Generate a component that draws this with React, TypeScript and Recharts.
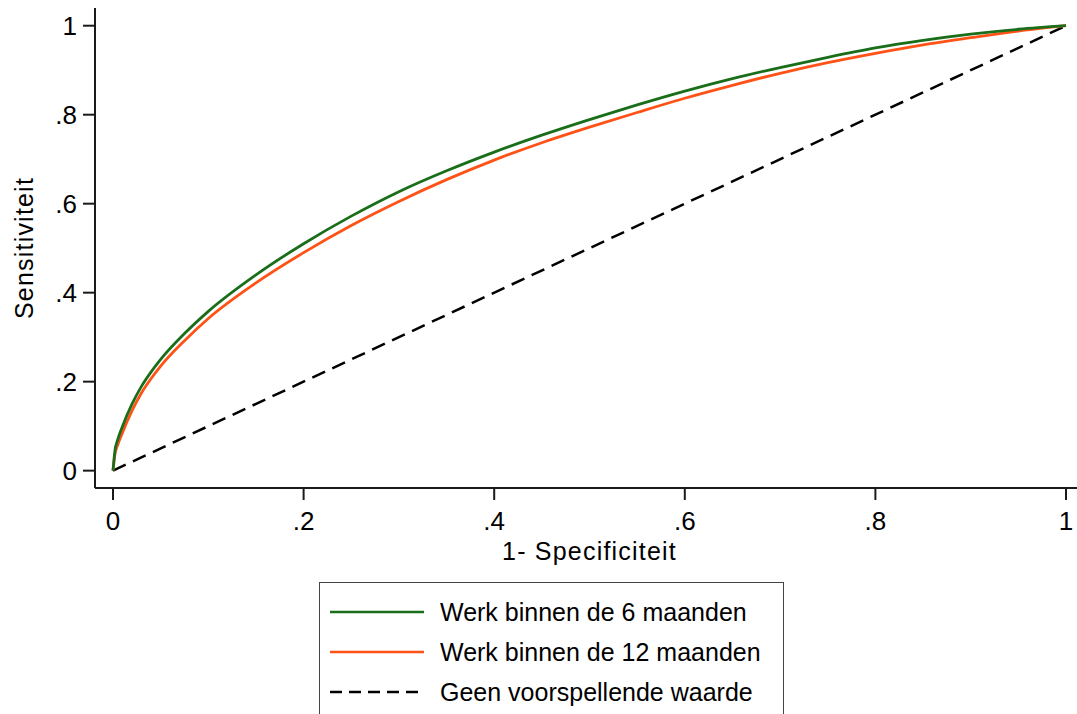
import { LineChart, Line, XAxis, YAxis, Legend } from 'recharts';

// ROC curves: 1 - specificity (x) vs sensitivity (y)
const fpr = [0, 0.002, 0.005, 0.01, 0.02, 0.03, 0.04, 0.05, 0.075, 0.1, 0.15, 0.2, 0.25, 0.3, 0.35, 0.4, 0.45, 0.5, 0.55, 0.6, 0.65, 0.7, 0.75, 0.8, 0.85, 0.9, 0.95, 1];
const sens6 = [0, 0.045, 0.07, 0.1, 0.15, 0.19, 0.222, 0.25, 0.308, 0.358, 0.44, 0.51, 0.572, 0.627, 0.674, 0.716, 0.754, 0.789, 0.822, 0.853, 0.881, 0.906, 0.929, 0.95, 0.967, 0.981, 0.992, 1];
const sens12 = [0, 0.036, 0.058, 0.086, 0.135, 0.175, 0.207, 0.235, 0.292, 0.342, 0.422, 0.49, 0.551, 0.605, 0.654, 0.698, 0.737, 0.772, 0.805, 0.837, 0.866, 0.893, 0.917, 0.938, 0.957, 0.973, 0.988, 1];
const diagonal = [0, 1];

const xTicks = [0, 0.2, 0.4, 0.6, 0.8, 1];
const yTicks = [0, 0.2, 0.4, 0.6, 0.8, 1];
const seriesNames = ['Werk binnen de 6 maanden', 'Werk binnen de 12 maanden', 'Geen voorspellende waarde'];

const GREEN = '#1a6e1a';
const ORANGE = '#ff5216';
const AXIS = '#1a1a1a';
const FONT = "'Liberation Sans', Arial, sans-serif";

const data6 = fpr.map((x, i) => ({ x, y: sens6[i] }));
const data12 = fpr.map((x, i) => ({ x, y: sens12[i] }));
const dataRef = diagonal.map((v) => ({ x: v, y: v }));

const fmt = (v: number) => (v === 0 ? '0' : v === 1 ? '1' : String(v).replace(/^0/, ''));

const legendItems = [
  { name: seriesNames[0], color: GREEN, dash: undefined },
  { name: seriesNames[1], color: ORANGE, dash: undefined },
  { name: seriesNames[2], color: '#000', dash: '12 7' },
];

function RocLegend() {
  return (
    <div
      style={{
        border: '1.5px solid #444',
        background: '#fff',
        width: 465,
        height: 150,
        boxSizing: 'border-box',
        paddingTop: 9,
        fontFamily: FONT,
        fontSize: 25,
        color: '#000',
      }}
    >
      {legendItems.map((it) => (
        <div key={it.name} style={{ display: 'flex', alignItems: 'center', height: 40 }}>
          <svg width={110} height={10} style={{ marginLeft: 10 }}>
            <line x1={0} x2={94} y1={5} y2={5} stroke={it.color} strokeWidth={2.5} strokeDasharray={it.dash} />
          </svg>
          <span>{it.name}</span>
        </div>
      ))}
    </div>
  );
}

export default function App() {
  return (
    <div style={{ position: 'absolute', left: 0, top: 0, width: 1077, height: 714, overflow: 'hidden', background: '#fff' }}>
      <LineChart width={1084} height={714} margin={{ top: 8, right: 0, bottom: 146, left: 0 }}>
        <XAxis
          xAxisId="top"
          orientation="top"
          type="number"
          domain={[-0.0189, 1.0189]}
          height={0}
          tick={false}
          tickLine={false}
          axisLine={{ stroke: AXIS, strokeWidth: 2 }}
          allowDataOverflow
        />
        <XAxis
          dataKey="x"
          type="number"
          domain={[-0.0189, 1.0189]}
          ticks={xTicks}
          tickFormatter={fmt}
          height={80}
          tickSize={12}
          tickMargin={12}
          allowDataOverflow
          axisLine={{ stroke: AXIS, strokeWidth: 2 }}
          tickLine={{ stroke: AXIS, strokeWidth: 2 }}
          tick={{ fill: '#000', fontSize: 26, fontFamily: FONT }}
          label={{
            content: (props: any) => {
              const vb = props.viewBox || { x: 95, width: 989 };
              return (
                <text x={vb.x + vb.width / 2} y={560} textAnchor="middle" fontSize={25} fontFamily={FONT} letterSpacing={1.2} fill="#000">
                  1- Specificiteit
                </text>
              );
            },
          }}
        />
        <YAxis
          type="number"
          domain={[-0.039, 1.0398]}
          ticks={yTicks}
          tickFormatter={fmt}
          width={95}
          tickSize={12}
          tickMargin={6}
          allowDataOverflow
          axisLine={{ stroke: AXIS, strokeWidth: 2 }}
          tickLine={{ stroke: AXIS, strokeWidth: 2 }}
          tick={{ fill: '#000', fontSize: 26, fontFamily: FONT }}
          label={{
            content: (props: any) => {
              const vb = props.viewBox || { y: 8, height: 480 };
              const cx = 33;
              const cy = vb.y + vb.height / 2;
              return (
                <text x={cx} y={cy} transform={`rotate(-90, ${cx}, ${cy})`} textAnchor="middle" fontSize={25} fontFamily={FONT} letterSpacing={1.2} fill="#000">
                  Sensitiviteit
                </text>
              );
            },
          }}
        />
        <Line data={dataRef} dataKey="y" name={seriesNames[2]} type="linear" stroke="#000" strokeWidth={2.5} strokeDasharray="14 8" dot={false} isAnimationActive={false} />
        <Line data={data12} dataKey="y" name={seriesNames[1]} type="monotone" stroke={ORANGE} strokeWidth={2.8} dot={false} isAnimationActive={false} />
        <Line data={data6} dataKey="y" name={seriesNames[0]} type="monotone" stroke={GREEN} strokeWidth={2.8} dot={false} isAnimationActive={false} />
        <Legend
          layout="horizontal"
          verticalAlign="middle"
          align="center"
          content={() => <RocLegend />}
          wrapperStyle={{ position: 'absolute', left: 319, top: 582, width: 465, height: 150 }}
        />
      </LineChart>
    </div>
  );
}
